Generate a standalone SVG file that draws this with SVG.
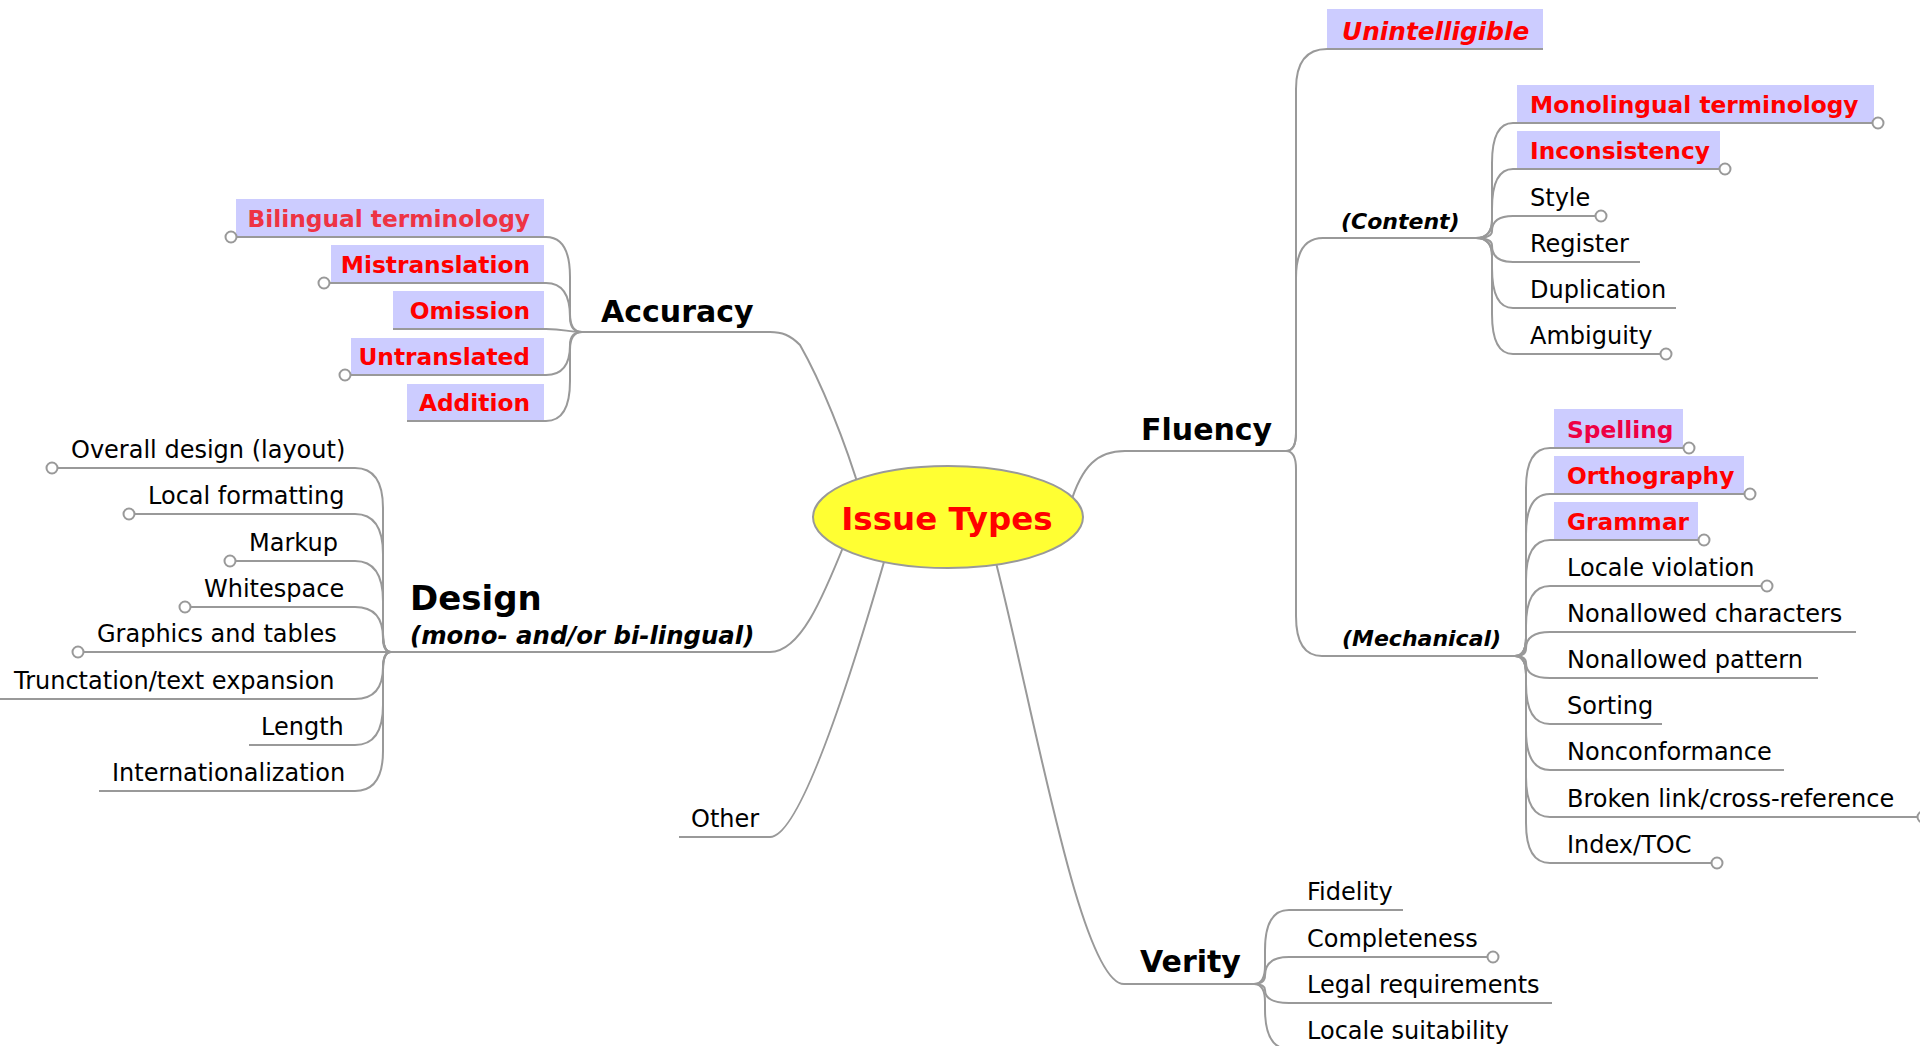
<svg xmlns="http://www.w3.org/2000/svg" width="1920" height="1046" viewBox="0 0 1920 1046">
<style>
.ln{fill:none;stroke:#999;stroke-width:2}
.cir{fill:#fff;stroke:#999;stroke-width:2}
.box{fill:#ccccff}
text{font-family:"DejaVu Sans","Liberation Sans",sans-serif;fill:#000}
.t{font-size:24px}
.tb{font-size:23.3px;font-weight:bold;fill:#ff0000}
.main{font-size:30px;font-weight:bold}
.sub{font-size:22px;font-weight:bold;font-style:italic}
</style>
<rect width="1920" height="1046" fill="#fff"/>
<g id="connectors">
<!-- main branches -->
<path class="ln" d="M 862,498 C 845,440 820,380 800,345 C 790,335 782,332 770,332 H 582"/>
<path class="ln" d="M 846,540 C 822,600 800,652 770,652 H 391"/>
<path class="ln" d="M 886,555 C 850,680 800,837 770,837 H 679"/>
<path class="ln" d="M 1070,505 C 1082,465 1098,451 1125,451 H 1286"/>
<path class="ln" d="M 994,555 C 1032,700 1080,984 1124,984 H 1254"/>
<!-- accuracy -->
<path class="ln" d="M 582,332 Q 570,332 570,314 L 570,277 Q 570,237 546,237 H 231"/>
<path class="ln" d="M 582,332 Q 570,332 570,317 Q 570,283 546,283 H 324"/>
<path class="ln" d="M 582,332 C 566,332 566,329 546,329 H 393"/>
<path class="ln" d="M 582,332 Q 570,332 570,345 Q 570,375 546,375 H 345"/>
<path class="ln" d="M 582,332 Q 570,332 570,350 L 570,381 Q 570,421 546,421 H 407"/>
<!-- design -->
<path class="ln" d="M 391,652 Q 383,652 383,634 L 383,508 Q 383,468 355,468 H 52"/>
<path class="ln" d="M 391,652 Q 383,652 383,634 L 383,554 Q 383,514 355,514 H 129"/>
<path class="ln" d="M 391,652 Q 383,652 383,634 L 383,601 Q 383,561 355,561 H 230"/>
<path class="ln" d="M 391,652 Q 383,652 383,638 Q 383,607 355,607 H 185"/>
<path class="ln" d="M 391,652 H 78"/>
<path class="ln" d="M 391,652 Q 383,652 383,667 Q 383,699 355,699 H 0"/>
<path class="ln" d="M 391,652 Q 383,652 383,670 L 383,705 Q 383,745 355,745 H 249"/>
<path class="ln" d="M 391,652 Q 383,652 383,670 L 383,751 Q 383,791 355,791 H 99"/>
<!-- fluency -->
<path class="ln" d="M 1286,451 Q 1296,451 1296,433 L 1296,89 Q 1296,49 1327,49 H 1543"/>
<path class="ln" d="M 1286,451 Q 1296,451 1296,433 L 1296,278 Q 1296,238 1323,238 H 1476"/>
<path class="ln" d="M 1286,451 Q 1296,451 1296,469 L 1296,616 Q 1296,656 1322,656 H 1515"/>
<!-- content -->
<path class="ln" d="M 1476,238 Q 1492,238 1492,220 L 1492,163 Q 1492,123 1513,123 H 1878"/>
<path class="ln" d="M 1476,238 Q 1492,238 1492,220 L 1492,209 Q 1492,169 1513,169 H 1725"/>
<path class="ln" d="M 1476,238 Q 1492,238 1492,231 Q 1492,216 1513,216 H 1601"/>
<path class="ln" d="M 1476,238 Q 1492,238 1492,245.5 Q 1492,262 1513,262 H 1640"/>
<path class="ln" d="M 1476,238 Q 1492,238 1492,256 L 1492,268 Q 1492,308 1513,308 H 1676"/>
<path class="ln" d="M 1476,238 Q 1492,238 1492,256 L 1492,314 Q 1492,354 1513,354 H 1666"/>
<!-- mechanical -->
<path class="ln" d="M 1515,656 Q 1526,656 1526,638 L 1526,488 Q 1526,448 1550,448 H 1689"/>
<path class="ln" d="M 1515,656 Q 1526,656 1526,638 L 1526,534 Q 1526,494 1550,494 H 1750"/>
<path class="ln" d="M 1515,656 Q 1526,656 1526,638 L 1526,580 Q 1526,540 1550,540 H 1704"/>
<path class="ln" d="M 1515,656 Q 1526,656 1526,638 L 1526,626 Q 1526,586 1550,586 H 1767"/>
<path class="ln" d="M 1515,656 Q 1526,656 1526,648.5 Q 1526,632 1550,632 H 1856"/>
<path class="ln" d="M 1515,656 Q 1526,656 1526,663 Q 1526,678 1550,678 H 1818"/>
<path class="ln" d="M 1515,656 Q 1526,656 1526,674 L 1526,684 Q 1526,724 1550,724 H 1662"/>
<path class="ln" d="M 1515,656 Q 1526,656 1526,674 L 1526,730 Q 1526,770 1550,770 H 1784"/>
<path class="ln" d="M 1515,656 Q 1526,656 1526,674 L 1526,777 Q 1526,817 1550,817 H 1923"/>
<path class="ln" d="M 1515,656 Q 1526,656 1526,674 L 1526,823 Q 1526,863 1550,863 H 1717"/>
<!-- verity -->
<path class="ln" d="M 1254,984 Q 1265,984 1265,966 L 1265,950 Q 1265,910 1289,910 H 1403"/>
<path class="ln" d="M 1254,984 Q 1265,984 1265,975.6 Q 1265,957 1289,957 H 1493"/>
<path class="ln" d="M 1254,984 Q 1265,984 1265,990 Q 1265,1003 1289,1003 H 1552"/>
<path class="ln" d="M 1254,984 Q 1265,984 1265,1002 L 1265,1009 Q 1265,1049 1289,1049 H 1520"/>
</g>

<g id="issue-types">
<ellipse cx="948" cy="517" rx="135" ry="51" fill="#ffff33" stroke="#999" stroke-width="2"/>
<text x="947" y="530" text-anchor="middle" style="font-size:32.5px;font-weight:bold;fill:#ff0000">Issue Types</text>
</g>

<g id="accuracy"><text class="main" x="601" y="322">Accuracy</text></g>
<g id="bilingual-terminology"><rect class="box" x="236" y="199" width="308" height="37"/><circle class="cir" cx="231" cy="237" r="5.5"/><text class="tb" x="530" y="227" text-anchor="end" style="fill:#ee3344">Bilingual terminology</text></g>
<g id="mistranslation"><rect class="box" x="331" y="245" width="213" height="37"/><circle class="cir" cx="324" cy="283" r="5.5"/><text class="tb" x="530" y="273" text-anchor="end">Mistranslation</text></g>
<g id="omission"><rect class="box" x="393" y="291" width="151" height="37"/><text class="tb" x="530" y="319" text-anchor="end">Omission</text></g>
<g id="untranslated"><rect class="box" x="351" y="338" width="193" height="36"/><circle class="cir" cx="345" cy="375" r="5.5"/><text class="tb" x="530" y="365" text-anchor="end">Untranslated</text></g>
<g id="addition"><rect class="box" x="407" y="384" width="137" height="36"/><text class="tb" x="530" y="411" text-anchor="end">Addition</text></g>

<g id="design"><text x="410" y="610" style="font-size:34px;font-weight:bold">Design</text><text x="410" y="644" style="font-size:24.4px;font-weight:bold;font-style:italic">(mono- and/or bi-lingual)</text></g>
<g id="overall-design"><circle class="cir" cx="52" cy="468" r="5.5"/><text class="t" x="71" y="458">Overall design (layout)</text></g>
<g id="local-formatting"><circle class="cir" cx="129" cy="514" r="5.5"/><text class="t" x="148" y="504">Local formatting</text></g>
<g id="markup"><circle class="cir" cx="230" cy="561" r="5.5"/><text class="t" x="249" y="551">Markup</text></g>
<g id="whitespace"><circle class="cir" cx="185" cy="607" r="5.5"/><text class="t" x="204" y="597">Whitespace</text></g>
<g id="graphics-tables"><circle class="cir" cx="78" cy="652" r="5.5"/><text class="t" x="97" y="642">Graphics and tables</text></g>
<g id="truncation"><text class="t" x="14" y="689">Trunctation/text expansion</text></g>
<g id="length"><text class="t" x="261" y="735">Length</text></g>
<g id="internationalization"><text class="t" x="112" y="781">Internationalization</text></g>

<g id="other"><text class="t" x="691" y="827">Other</text></g>

<g id="fluency"><text class="main" x="1141" y="440">Fluency</text></g>
<g id="unintelligible"><rect class="box" x="1327" y="9" width="216" height="39"/><text x="1342" y="40" style="font-size:24.8px;font-weight:bold;font-style:italic;fill:#ff0000">Unintelligible</text></g>
<g id="content"><text class="sub" x="1341" y="229">(Content)</text></g>
<g id="monolingual-terminology"><rect class="box" x="1517" y="85" width="357" height="37"/><circle class="cir" cx="1878" cy="123" r="5.5"/><text class="tb" x="1530" y="113">Monolingual terminology</text></g>
<g id="inconsistency"><rect class="box" x="1517" y="131" width="203" height="37"/><circle class="cir" cx="1725" cy="169" r="5.5"/><text class="tb" x="1530" y="159">Inconsistency</text></g>
<g id="style"><circle class="cir" cx="1601" cy="216" r="5.5"/><text class="t" x="1530" y="206">Style</text></g>
<g id="register"><text class="t" x="1530" y="252">Register</text></g>
<g id="duplication"><text class="t" x="1530" y="298">Duplication</text></g>
<g id="ambiguity"><circle class="cir" cx="1666" cy="354" r="5.5"/><text class="t" x="1530" y="344">Ambiguity</text></g>

<g id="mechanical"><text class="sub" x="1342" y="646">(Mechanical)</text></g>
<g id="spelling"><rect class="box" x="1554" y="409" width="129" height="38"/><circle class="cir" cx="1689" cy="448" r="5.5"/><text class="tb" x="1567" y="438" style="fill:#ee0044">Spelling</text></g>
<g id="orthography"><rect class="box" x="1554" y="456" width="190" height="37"/><circle class="cir" cx="1750" cy="494" r="5.5"/><text class="tb" x="1567" y="484">Orthography</text></g>
<g id="grammar"><rect class="box" x="1554" y="502" width="144" height="37"/><circle class="cir" cx="1704" cy="540" r="5.5"/><text class="tb" x="1567" y="530">Grammar</text></g>
<g id="locale-violation"><circle class="cir" cx="1767" cy="586" r="5.5"/><text class="t" x="1567" y="576">Locale violation</text></g>
<g id="nonallowed-characters"><text class="t" x="1567" y="622">Nonallowed characters</text></g>
<g id="nonallowed-pattern"><text class="t" x="1567" y="668">Nonallowed pattern</text></g>
<g id="sorting"><text class="t" x="1567" y="714">Sorting</text></g>
<g id="nonconformance"><text class="t" x="1567" y="760">Nonconformance</text></g>
<g id="broken-link"><circle class="cir" cx="1923" cy="817" r="5.5"/><text class="t" x="1567" y="807">Broken link/cross-reference</text></g>
<g id="index-toc"><circle class="cir" cx="1717" cy="863" r="5.5"/><text class="t" x="1567" y="853">Index/TOC</text></g>

<g id="verity"><text class="main" x="1140" y="972">Verity</text></g>
<g id="fidelity"><text class="t" x="1307" y="900">Fidelity</text></g>
<g id="completeness"><circle class="cir" cx="1493" cy="957" r="5.5"/><text class="t" x="1307" y="947">Completeness</text></g>
<g id="legal-requirements"><text class="t" x="1307" y="993">Legal requirements</text></g>
<g id="locale-suitability"><text class="t" x="1307" y="1039">Locale suitability</text></g>
</svg>
